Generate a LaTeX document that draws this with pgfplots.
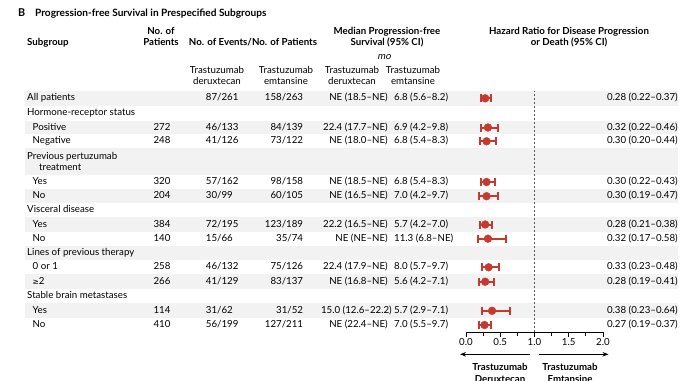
\documentclass[border=0pt]{standalone}
\usepackage{fontspec}
\setmainfont{Lato}
\newfontfamily\symf{DejaVu Sans}
\newfontfamily\slantf{Lato}[FakeSlant=0.2]
\usepackage{pgfplots}
\pgfplotsset{compat=1.18}
\usepackage{pgfplotstable}
\usetikzlibrary{arrows.meta}
\definecolor{hrred}{RGB}{196,58,46}
\definecolor{band}{RGB}{242,242,242}
\newcommand\fs{\fontsize{9.7}{11.5}\selectfont}
\pgfplotstableread{
y hr lo hi
-98.3 0.28 0.22 0.37
-127.5 0.32 0.22 0.46
-141.3 0.30 0.20 0.44
-182 0.30 0.22 0.43
-196.2 0.30 0.19 0.47
-224.5 0.28 0.21 0.38
-238.7 0.32 0.17 0.58
-267.3 0.33 0.23 0.48
-281.7 0.28 0.19 0.41
-310.8 0.38 0.23 0.64
-325 0.27 0.19 0.37
}\hrdata
\newcommand\row[7]{%
 \node[reg,anchor=mid] at (162,#1) {#2};
 \node[reg,anchor=mid west] at (205.7,#1) {#3};
 \node[reg,anchor=mid east] at (303.3,#1) {#4};
 \node[reg,anchor=mid east] at (388,#1) {#5};
 \node[reg,anchor=mid west] at (394,#1) {#6};
 \node[reg,anchor=mid east] at (678,#1) {#7};}
\begin{document}
\begin{tikzpicture}
\path[use as bounding box] (0,0) rectangle (692pt,-380pt);
\clip (0,0) rectangle (692pt,-380pt);
\begin{scope}[x=1pt,y=-1pt,
  reg/.style={font=\fs,inner sep=0pt},
  bld/.style={font=\fs\bfseries,inner sep=0pt}]
\fill[band] (25,91) rectangle (678,105.7);
\fill[band] (25,120.7) rectangle (678,134.3);
\fill[band] (25,148.3) rectangle (678,175);
\fill[band] (25,189) rectangle (678,203.3);
\fill[band] (25,217.3) rectangle (678,231.7);
\fill[band] (25,245.7) rectangle (678,260.3);
\fill[band] (25,274.3) rectangle (678,289);
\fill[band] (25,303.3) rectangle (678,318.3);
% title and headers
\node[inner sep=0pt,font=\fontsize{10.8}{13}\selectfont\bfseries,anchor=mid west] at (18,14) {B};
\node[inner sep=0pt,font=\fontsize{10.1}{12}\selectfont\bfseries,anchor=mid west] at (35,14) {Progression-free Survival in Prespecified Subgroups};
\node[bld,anchor=mid west] at (27,43.3) {Subgroup};
\node[bld,anchor=mid] at (161,31.7) {No. of};
\node[bld,anchor=mid] at (161,43.3) {Patients};
\node[bld,anchor=mid] at (253,43.3) {No. of Events/No. of Patients};
\node[bld,anchor=mid] at (387,31.7) {Median Progression-free};
\node[bld,anchor=mid] at (387,43.3) {Survival (95\% CI)};
\node[inner sep=0pt,anchor=mid,font=\fs\slantf] at (384,57) {mo};
\node[bld,anchor=mid] at (569,31.7) {Hazard Ratio for Disease Progression};
\node[bld,anchor=mid] at (569,43.3) {or Death (95\% CI)};
\foreach \cx/\sub in {217/deruxtecan,286/emtansine,352/deruxtecan,413/emtansine}{
  \node[reg,anchor=mid] at (\cx,70.7) {Trastuzumab};
  \node[reg,anchor=mid] at (\cx,81.7) {\sub};}
% subgroup labels
\node[reg,anchor=mid west] at (27,98.3) {All patients};
\node[reg,anchor=mid west] at (27,113.2) {Hormone-receptor status};
\node[reg,anchor=mid west] at (32.5,127.5) {Positive};
\node[reg,anchor=mid west] at (32.5,141.3) {Negative};
\node[reg,anchor=mid west] at (27,156.5) {Previous pertuzumab};
\node[reg,anchor=mid west] at (39,167.5) {treatment};
\node[reg,anchor=mid west] at (32.5,182) {Yes};
\node[reg,anchor=mid west] at (32.5,196.2) {No};
\node[reg,anchor=mid west] at (27,210.3) {Visceral disease};
\node[reg,anchor=mid west] at (32.5,224.5) {Yes};
\node[reg,anchor=mid west] at (32.5,238.7) {No};
\node[reg,anchor=mid west] at (27,253) {Lines of previous therapy};
\node[reg,anchor=mid west] at (32.5,267.3) {0 or 1};
\node[reg,anchor=mid west] at (32.5,281.7) {{\symf\fontsize{7.5}{9}\selectfont ≥}2};
\node[reg,anchor=mid west] at (27,296.2) {Stable brain metastases};
\node[reg,anchor=mid west] at (32.5,310.8) {Yes};
\node[reg,anchor=mid west] at (32.5,325) {No};
% rows
\row{98.3}{}{87/261}{158/263}{NE (18.5–NE)}{6.8 (5.6–8.2)}{0.28 (0.22–0.37)}
\row{127.5}{272}{46/133}{84/139}{22.4 (17.7–NE)}{6.9 (4.2–9.8)}{0.32 (0.22–0.46)}
\row{141.3}{248}{41/126}{73/122}{NE (18.0–NE)}{6.8 (5.4–8.3)}{0.30 (0.20–0.44)}
\row{182}{320}{57/162}{98/158}{NE (18.5–NE)}{6.8 (5.4–8.3)}{0.30 (0.22–0.43)}
\row{196.2}{204}{30/99}{60/105}{NE (16.5–NE)}{7.0 (4.2–9.7)}{0.30 (0.19–0.47)}
\row{224.5}{384}{72/195}{123/189}{22.2 (16.5–NE)}{5.7 (4.2–7.0)}{0.28 (0.21–0.38)}
\row{238.7}{140}{15/66}{35/74}{NE (NE–NE)}{11.3 (6.8–NE)}{0.32 (0.17–0.58)}
\row{267.3}{258}{46/132}{75/126}{22.4 (17.9–NE)}{8.0 (5.7–9.7)}{0.33 (0.23–0.48)}
\row{281.7}{266}{41/129}{83/137}{NE (16.8–NE)}{5.6 (4.2–7.1)}{0.28 (0.19–0.41)}
\row{310.8}{114}{31/62}{31/52}{}{5.7 (2.9–7.1)}{0.38 (0.23–0.64)}
\node[reg,anchor=mid east] at (392,310.8) {15.0 (12.6–22.2)};
\row{325}{410}{56/199}{127/211}{NE (22.4–NE)}{7.0 (5.5–9.7)}{0.27 (0.19–0.37)}
% arrows and bottom labels
\draw[line width=0.9pt,-{Stealth[length=6pt,width=4.5pt]}] (530,354.3) -- (460,354.3);
\draw[line width=0.9pt,-{Stealth[length=6pt,width=4.5pt]}] (539.3,354.3) -- (608.5,354.3);
\node[bld,anchor=mid] at (500,368.3) {Trastuzumab};
\node[bld,anchor=mid] at (500,380.3) {Deruxtecan};
\node[bld,anchor=mid] at (570,368.3) {Trastuzumab};
\node[bld,anchor=mid] at (570,380.3) {Emtansine};
\end{scope}
\begin{axis}[at={(466pt,-332pt)}, anchor=south west, scale only axis,
  width=137pt, height=241pt, xmin=0, xmax=2, ymin=-332, ymax=-91,
  axis x line*=bottom, axis y line=none, clip=false,
  xtick={0,0.5,1,1.5,2}, xticklabels={0.0,0.5,1.0,1.5,2.0},
  minor xtick={0.25,0.75,1.25,1.75},
  tick align=outside, major tick length=5pt, minor tick length=4pt,
  tick style={black, line width=0.8pt},
  axis line style={black, line width=0.8pt},
  xticklabel style={font=\fs, inner sep=1.5pt}]
\addplot[color=black!65, line width=1pt, dash pattern=on 2pt off 2pt] coordinates {(1,-332) (1,-91)};
\addplot[only marks, mark=*, mark size=3.9pt, color=hrred,
  error bars/.cd, x dir=both, x explicit, error mark=|,
  error bar style={line width=2pt, hrred},
  error mark options={line width=2pt, mark size=4pt, hrred}]
  table[x=hr, y=y, x error plus expr=\thisrow{hi}-\thisrow{hr}, x error minus expr=\thisrow{hr}-\thisrow{lo}] {\hrdata};
\end{axis}
\end{tikzpicture}
\end{document}
